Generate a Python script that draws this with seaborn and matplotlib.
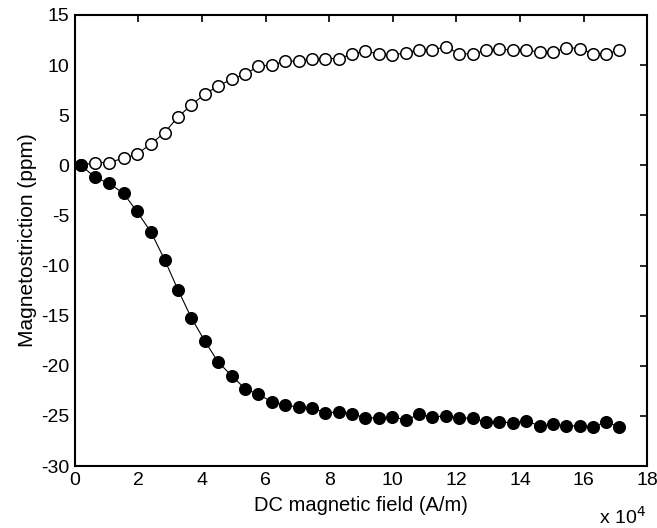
import matplotlib
matplotlib.use('Agg')
import matplotlib.pyplot as plt
import pandas as pd
import seaborn as sns

# DC field (x 10^4 A/m)
campo = [0.2, 0.63, 1.08, 1.53, 1.95, 2.4, 2.82, 3.24, 3.66, 4.08, 4.5,
         4.93, 5.36, 5.77, 6.2, 6.62, 7.04, 7.46, 7.88, 8.3, 8.72, 9.14,
         9.57, 9.99, 10.42, 10.83, 11.23, 11.67, 12.08, 12.52, 12.93, 13.35,
         13.79, 14.19, 14.63, 15.05, 15.45, 15.88, 16.29, 16.72, 17.12]

aberto = [0, 0.27, 0.27, 0.73, 1.1, 2.17, 3.26, 4.82, 6.0, 7.1, 7.9,
          8.6, 9.1, 9.9, 10.0, 10.4, 10.4, 10.65, 10.65, 10.65, 11.1, 11.4,
          11.1, 11.0, 11.25, 11.5, 11.55, 11.8, 11.15, 11.1, 11.5, 11.6,
          11.5, 11.5, 11.3, 11.3, 11.75, 11.65, 11.15, 11.15, 11.5]

cheio = [0, -1.2, -1.8, -2.8, -4.6, -6.7, -9.4, -12.4, -15.2, -17.5, -19.6,
         -21.0, -22.3, -22.85, -23.6, -23.95, -24.1, -24.2, -24.7, -24.6, -24.8, -25.2,
         -25.2, -25.1, -25.4, -24.85, -25.1, -25.0, -25.2, -25.25, -25.6, -25.6,
         -25.7, -25.5, -26.0, -25.85, -26.0, -26.0, -26.1, -25.6, -26.1]

df = pd.DataFrame({'campo': campo, 'aberto': aberto, 'cheio': cheio})

sns.set_style('white')
plt.rcParams['font.family'] = ['Liberation Sans', 'DejaVu Sans']
plt.rcParams['axes.unicode_minus'] = False
plt.rcParams['text.color'] = 'k'
plt.rcParams['axes.labelcolor'] = 'k'

fig = plt.figure(figsize=(6.57, 5.28), dpi=100)
ax = fig.add_axes([0.114, 0.1174, 0.871, 0.8542])

sns.lineplot(data=df, x='campo', y='aberto', ax=ax, color='k', lw=0.8,
             marker='o', markersize=8.3, markerfacecolor='white',
             markeredgecolor='k', markeredgewidth=1.1)
sns.lineplot(data=df, x='campo', y='cheio', ax=ax, color='k', lw=0.8,
             marker='o', markersize=8.3, markerfacecolor='k',
             markeredgecolor='k', markeredgewidth=1.1)

ax.set_xlim(0, 18)
ax.set_ylim(-30, 15)
ax.set_xticks(range(0, 19, 2))
ax.set_yticks(range(-30, 16, 5))
ax.tick_params(direction='in', length=5, width=1.2, top=True, right=True,
               labelsize=14, colors='k', pad=4)
for s in ax.spines.values():
    s.set_color('k')
    s.set_linewidth(1.5)

ax.set_xlabel('DC magnetic field (A/m)', fontsize=14.5, labelpad=5)
ax.set_ylabel('Magnetostriction (ppm)', fontsize=15, labelpad=3)
ax.text(0.997, -0.088, r'x 10$^4$', transform=ax.transAxes, ha='right',
        va='top', fontsize=14)

fig.savefig('out.png', dpi=100)
plt.close()
